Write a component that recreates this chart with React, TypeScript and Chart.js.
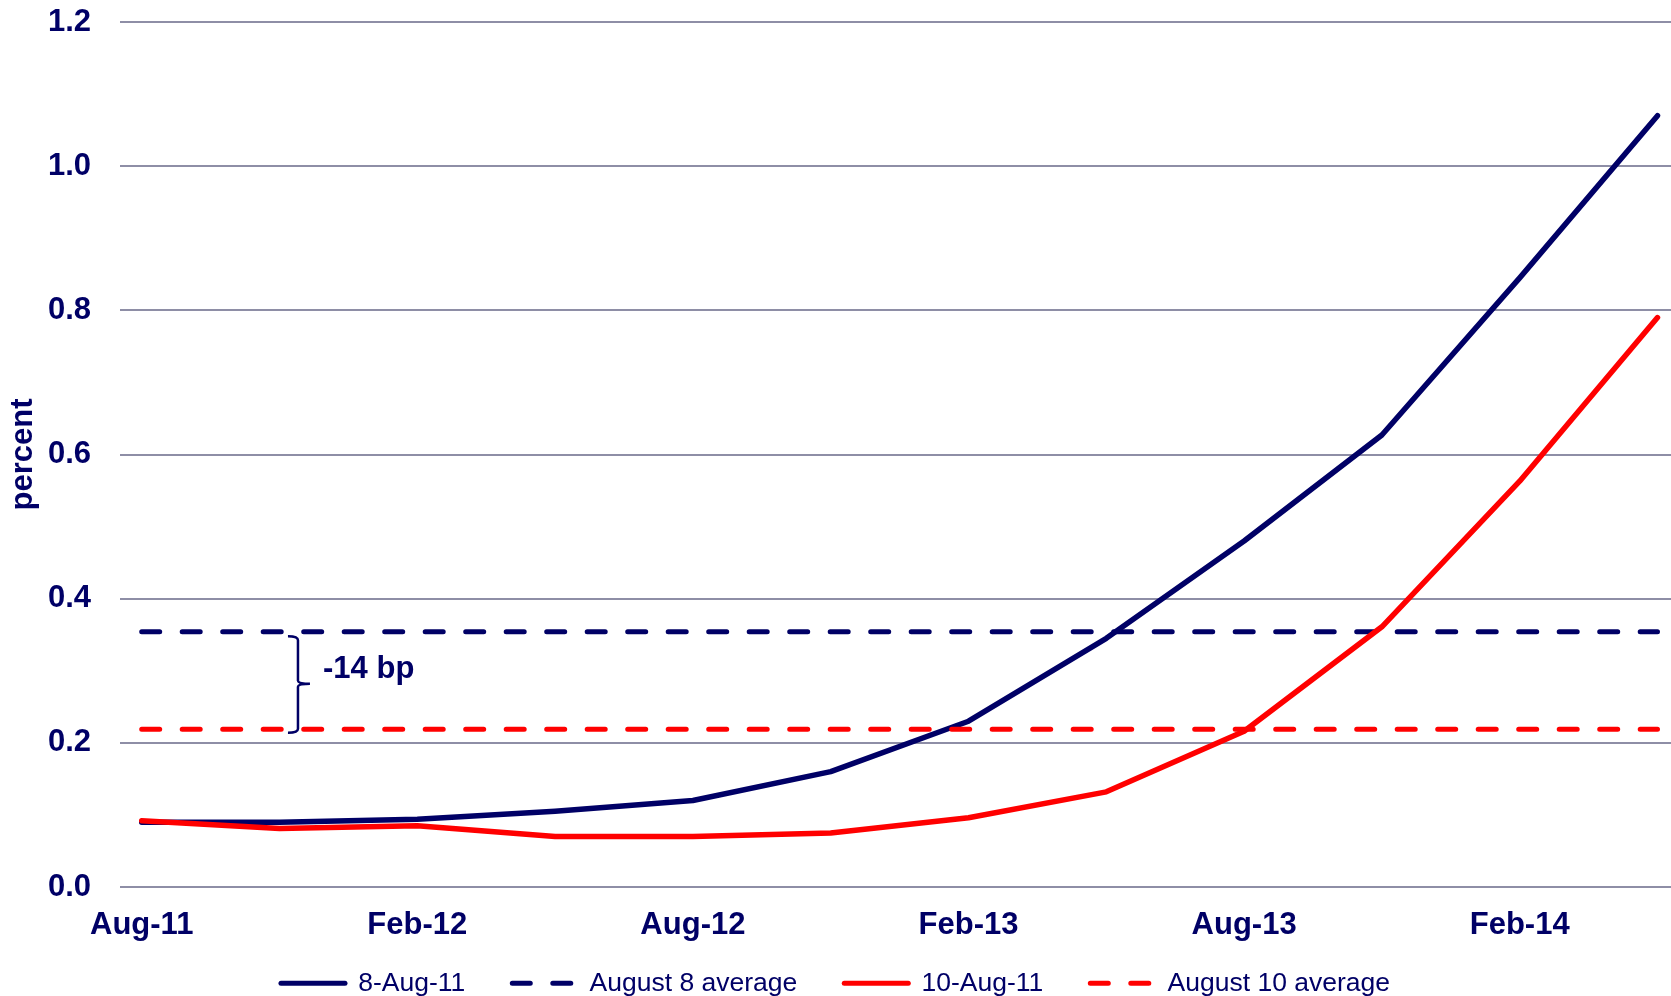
import React, { useEffect, useRef } from "react";
import { Chart, registerables } from "chart.js";

Chart.register(...registerables);

const categories = ["Aug-11", "Nov-11", "Feb-12", "May-12", "Aug-12", "Nov-12", "Feb-13", "May-13", "Aug-13", "Nov-13", "Feb-14", "May-14"];
const labeledTickIndexes = [0, 2, 4, 6, 8, 10];
const aug8 = [0.09, 0.09, 0.094, 0.105, 0.12, 0.16, 0.23, 0.345, 0.48, 0.627, 0.845, 1.07];
const aug10 = [0.092, 0.081, 0.085, 0.07, 0.07, 0.075, 0.096, 0.132, 0.216, 0.361, 0.563, 0.79];
const aug8Average = [0.354, 0.354, 0.354, 0.354, 0.354, 0.354, 0.354, 0.354, 0.354, 0.354, 0.354, 0.354];
const aug10Average = [0.219, 0.219, 0.219, 0.219, 0.219, 0.219, 0.219, 0.219, 0.219, 0.219, 0.219, 0.219];
const seriesLabels = ["8-Aug-11", "August 8 average", "10-Aug-11", "August 10 average"];
const noteText = "-14 bp";

const NAVY = "#000066";
const RED = "#ff0000";
const GRID = "#8e8ea6";
const FONT = "'Liberation Sans', Arial, sans-serif";

const note = { braceX: 1.134, braceTop: 0.348, braceMid: 0.282, braceBottom: 0.214, textX: 1.316, textY: 0.302 };
const LEGEND_SHIFT = 24;

const toPoints = (vals: number[]) => vals.map((v, i) => ({ x: i, y: v }));

const notePlugin = {
  id: "bpNote",
  afterLayout(chart: any) {
    if (chart.legend) {
      chart.legend.top -= LEGEND_SHIFT;
    }
  },
  afterDatasetsDraw(chart: any) {
    const { ctx } = chart;
    const xs = chart.scales.x;
    const ys = chart.scales.y;
    const px = xs.getPixelForValue(note.braceX);
    const top = ys.getPixelForValue(note.braceTop);
    const mid = ys.getPixelForValue(note.braceMid);
    const bottom = ys.getPixelForValue(note.braceBottom);
    ctx.save();
    ctx.strokeStyle = NAVY;
    ctx.lineWidth = 2.5;
    ctx.lineCap = "butt";
    ctx.beginPath();
    ctx.moveTo(px - 10, top);
    ctx.quadraticCurveTo(px, top, px, top + 4);
    ctx.lineTo(px, mid - 3);
    ctx.quadraticCurveTo(px, mid, px + 12, mid);
    ctx.moveTo(px + 12, mid);
    ctx.quadraticCurveTo(px, mid, px, mid + 3);
    ctx.lineTo(px, bottom - 4);
    ctx.quadraticCurveTo(px, bottom, px - 10, bottom);
    ctx.stroke();
    ctx.fillStyle = NAVY;
    ctx.font = `bold 31px ${FONT}`;
    ctx.textAlign = "left";
    ctx.textBaseline = "middle";
    ctx.fillText(noteText, xs.getPixelForValue(note.textX), ys.getPixelForValue(note.textY));
    ctx.restore();
  },
};

export default function App() {
  const ref = useRef<HTMLCanvasElement | null>(null);

  useEffect(() => {
    if (!ref.current) return;
    const common = { pointRadius: 0, pointHoverRadius: 0, borderWidth: 5.5, tension: 0, borderCapStyle: "round", borderJoinStyle: "round", fill: false };
    const dash = [18, 22.5];
    const chart = new Chart(ref.current, {
      type: "line",
      data: {
        datasets: [
          { ...common, label: seriesLabels[0], data: toPoints(aug8), borderColor: NAVY, backgroundColor: NAVY, order: 4 },
          { ...common, label: seriesLabels[1], data: toPoints(aug8Average), borderColor: NAVY, backgroundColor: NAVY, borderWidth: 5, borderDash: dash, order: 3 },
          { ...common, label: seriesLabels[2], data: toPoints(aug10), borderColor: RED, backgroundColor: RED, order: 2 },
          { ...common, label: seriesLabels[3], data: toPoints(aug10Average), borderColor: RED, backgroundColor: RED, borderWidth: 5, borderDash: dash, order: 1 },
        ] as any,
      },
      options: {
        animation: false,
        responsive: false,
        layout: { padding: { top: 22, right: 0, bottom: 0, left: 0 } },
        scales: {
          x: {
            type: "linear",
            min: -0.1575,
            max: 11.098,
            afterBuildTicks: (scale: any) => {
              scale.ticks = labeledTickIndexes.map((v) => ({ value: v }));
            },
            afterFit: (scale: any) => {
              scale.height = 60;
            },
            grid: { display: false, drawTicks: false },
            border: { display: false },
            ticks: {
              autoSkip: false,
              maxRotation: 0,
              padding: 20,
              color: NAVY,
              font: { family: FONT, size: 31, weight: "bold" },
              callback: (v: any) => categories[Number(v)] ?? "",
            },
          },
          y: {
            min: 0,
            max: 1.2,
            afterFit: (scale: any) => {
              scale.width = 120;
            },
            grid: { color: GRID, lineWidth: 2, drawTicks: true, tickLength: 29, tickColor: "rgba(0,0,0,0)" },
            border: { display: false },
            ticks: {
              stepSize: 0.2,
              padding: 0,
              color: NAVY,
              font: { family: FONT, size: 31, weight: "bold" },
              callback: (v: any) => Number(v).toFixed(1),
            },
            title: {
              display: true,
              text: "percent",
              color: NAVY,
              padding: { top: 5, bottom: 4 },
              font: { family: FONT, size: 31, weight: "bold" },
            },
          },
        },
        plugins: {
          tooltip: { enabled: false },
          legend: {
            position: "bottom",
            maxHeight: 49,
            labels: {
              usePointStyle: true,
              pointStyleWidth: 64,
              padding: 47,
              color: NAVY,
              font: { family: FONT, size: 26.5 },
              generateLabels: (ch: any) =>
                ch.data.datasets.map((ds: any, i: number) => ({
                  text: ds.label,
                  fillStyle: ds.borderColor,
                  strokeStyle: ds.borderColor,
                  lineWidth: 5,
                  lineDash: ds.borderDash || [],
                  lineCap: "round",
                  pointStyle: "line",
                  hidden: false,
                  datasetIndex: i,
                  fontColor: NAVY,
                })),
            },
          },
        },
      } as any,
      plugins: [notePlugin],
    });
    return () => chart.destroy();
  }, []);

  return (
    <div style={{ position: "absolute", left: 0, top: 0, width: 1671, height: 996, background: "#fff" }}>
      <canvas ref={ref} width={1671} height={996} style={{ display: "block" }} />
    </div>
  );
}
